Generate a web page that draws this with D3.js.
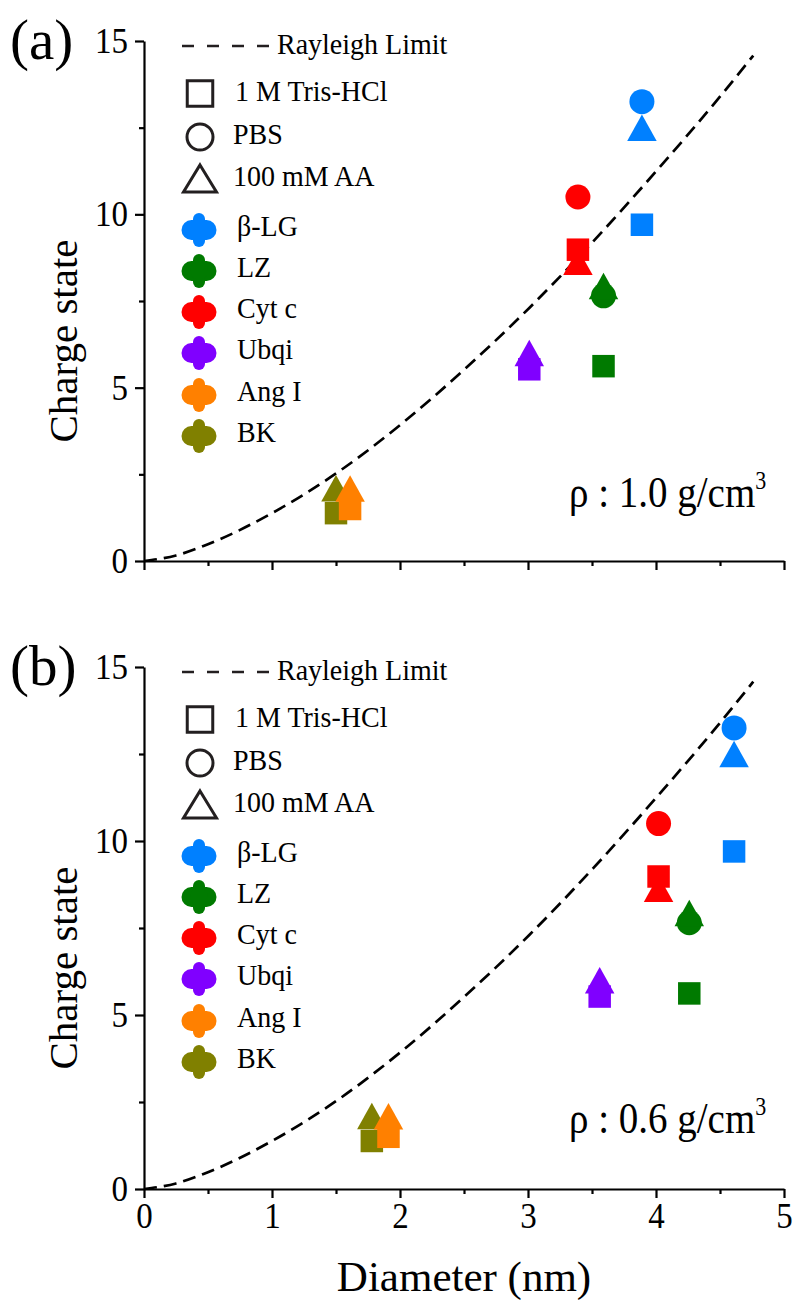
<!DOCTYPE html>
<html>
<head>
<meta charset="utf-8">
<script src="https://cdn.jsdelivr.net/npm/d3@7"></script>
<style>
  html, body { margin: 0; padding: 0; background: #fff; }
  svg text { font-family: "Liberation Serif", "Times New Roman", serif; fill: #000; }
</style>
</head>
<body>
<svg id="chart" width="798" height="1307"></svg>
<script>
// ---------------- data ----------------
const proteins = ["β-LG", "LZ", "Cyt c", "Ubqi", "Ang I", "BK"];
const proteinColors = ["#0080FF", "#007A00", "#FF0000", "#8000FF", "#FF8000", "#808000"];
// diameters (nm) at two assumed densities
const diameterRho10 = [3.89, 3.59, 3.39, 3.01, 1.61, 1.50];
const diameterRho06 = [4.61, 4.26, 4.02, 3.56, 1.91, 1.78];
// charge states per solution (null = not shown)
const chargeTris = [9.70, 5.62, 8.98, 5.53, 1.50, 1.38];
const chargePBS  = [13.25, 7.65, 10.50, null, null, null];
const chargeAA   = [12.50, 7.93, 8.63, 6.00, 2.09, 2.10];
// Rayleigh limit curve
const rayleighD = [0, 0.25, 0.47, 1.0, 1.51, 2.01, 2.51, 3.01, 3.51, 4.01, 4.51, 4.76];
const rayleighZ = [0, 0.16, 0.44, 1.38, 2.55, 3.95, 5.55, 7.30, 9.22, 11.28, 13.44, 14.58];
const solutionLabels = ["1 M Tris-HCl", "PBS", "100 mM AA"];
const xTicks = [0, 1, 2, 3, 4, 5];
const xMinorTicks = [0.5, 1.5, 2.5, 3.5, 4.5];
const yTicks = [0, 5, 10, 15];
const yMinorTicks = [2.5, 7.5, 12.5];
const panels = [
  { label: "(a)", rho: "1.0", diam: diameterRho10, yTop: 41, yBottom: 561, off: 0, xLabels: false },
  { label: "(b)", rho: "0.6", diam: diameterRho06, yTop: 667, yBottom: 1189, off: 626, xLabels: true }
];

// ---------------- drawing ----------------
const svg = d3.select("#chart");
const x = d3.scaleLinear().domain([0, 5]).range([144, 784]);

const SQ = 22.5, CR = 12.5, TW = 29.5, TH = 26.5;
function squarePath(cx, cy, s) { return `M${cx - s/2},${cy - s/2}h${s}v${s}h${-s}Z`; }
function triPath(cx, cy, w, h) { return `M${cx},${cy - h/2}L${cx + w/2},${cy + h/2}L${cx - w/2},${cy + h/2}Z`; }
// text placed with a slight vertical stretch like the reference typeface
function sText(parent, tx, ty, size, sy, str) {
  return parent.append("text")
    .attr("transform", `translate(${tx},${ty}) scale(1,${sy})`)
    .style("font-size", size + "px").text(str);
}

panels.forEach(p => {
  const y = d3.scaleLinear().domain([0, 15]).range([p.yBottom, p.yTop]);
  const g = svg.append("g");
  const TS = 1.1;

  // axes
  const xAxis = d3.axisBottom(x).tickValues(xTicks).tickSize(9).tickSizeOuter(0).tickFormat(d3.format("d"));
  const gx = g.append("g").attr("transform", `translate(0,${p.yBottom})`).call(xAxis);
  gx.selectAll("text").attr("y", 39 / TS).attr("dy", null).attr("transform", `scale(1,${TS})`).style("font-size", "33px");
  if (!p.xLabels) gx.selectAll("text").remove();
  const gxm = g.append("g").attr("transform", `translate(0,${p.yBottom})`)
    .call(d3.axisBottom(x).tickValues(xMinorTicks).tickSize(5).tickSizeOuter(0).tickFormat(""));
  gxm.select(".domain").remove();

  const gy = g.append("g").attr("transform", `translate(${x(0)},0)`)
    .call(d3.axisLeft(y).tickValues(yTicks).tickSize(9).tickSizeOuter(0).tickPadding(7));
  gy.selectAll("text").attr("transform", `scale(1,${TS})`).style("font-size", "33px");
  const gym = g.append("g").attr("transform", `translate(${x(0)},0)`)
    .call(d3.axisLeft(y).tickValues(yMinorTicks).tickSize(5).tickSizeOuter(0).tickFormat(""));
  gym.select(".domain").remove();

  g.selectAll(".domain, .tick line").attr("stroke", "#000").attr("stroke-width", 2.2);

  // y axis title
  g.append("text")
    .attr("transform", `translate(77,${(p.yTop + p.yBottom) / 2 + 40}) rotate(-90)`)
    .attr("text-anchor", "middle").style("font-size", "41px").text("Charge state");

  // panel label
  g.append("text").attr("x", 10).attr("y", 59 + p.off).style("font-size", "57px").text(p.label);

  // Rayleigh curve
  const line = d3.line().x(d => x(d[0])).y(d => y(d[1])).curve(d3.curveMonotoneX);
  g.append("path").datum(d3.zip(rayleighD, rayleighZ)).attr("d", line)
    .attr("fill", "none").attr("stroke", "#000").attr("stroke-width", 2.7)
    .attr("stroke-dasharray", "13,7");

  // data markers (drawn BK first so later proteins sit on top)
  const order = d3.range(proteins.length).reverse();
  order.forEach(i => {
    const c = proteinColors[i];
    const cx = x(p.diam[i]);
    if (chargeTris[i] != null) g.append("path").attr("d", squarePath(cx, y(chargeTris[i]), SQ)).attr("fill", c);
    if (chargePBS[i] != null) g.append("circle").attr("cx", cx).attr("cy", y(chargePBS[i])).attr("r", CR).attr("fill", c);
    if (chargeAA[i] != null) g.append("path").attr("d", triPath(cx, y(chargeAA[i]), TW, TH)).attr("fill", c);
  });

  // legend
  const o = p.off;
  const lg = g.append("g");
  const LS = 1.06;
  lg.append("line").attr("x1", 182).attr("x2", 269).attr("y1", 46 + o).attr("y2", 46 + o)
    .attr("stroke", "#231f20").attr("stroke-width", 2.7).attr("stroke-dasharray", "12,13");
  sText(lg, 277, 54 + o, 28, LS, "Rayleigh Limit");

  const ink = "#231f20";
  lg.append("path").attr("d", squarePath(200, 93.5 + o, 25.5)).attr("fill", "none").attr("stroke", ink).attr("stroke-width", 3);
  lg.append("circle").attr("cx", 200).attr("cy", 137 + o).attr("r", 13).attr("fill", "none").attr("stroke", ink).attr("stroke-width", 3);
  lg.append("path").attr("d", `M200,${165 + o}L216.5,${192 + o}L183.5,${192 + o}Z`).attr("fill", "none").attr("stroke", ink).attr("stroke-width", 3).attr("stroke-linejoin", "miter");
  const solY = [101, 144, 186];
  solutionLabels.forEach((t, k) => {
    sText(lg, k === 0 ? 235 : 233, solY[k] + o, 28, LS, t);
  });

  const protY = [230, 271, 312, 353, 395, 436];
  proteins.forEach((name, i) => {
    const cy = protY[i] + o, cx = 199;
    const cg = lg.append("g").attr("fill", proteinColors[i]);
    cg.append("rect").attr("x", cx - 6).attr("y", cy - 17).attr("width", 12).attr("height", 34).attr("rx", 6);
    cg.append("rect").attr("x", cx - 17.5).attr("y", cy - 10).attr("width", 35).attr("height", 20).attr("rx", 10);
    cg.append("circle").attr("cx", cx).attr("cy", cy).attr("r", 9);
    sText(lg, 237, cy + 6, 28, LS, name);
  });

  // density annotation
  const t = g.append("text").attr("transform", `translate(569,${507 + o}) scale(1,1.12)`).style("font-size", "39px");
  t.append("tspan").text(`ρ : ${p.rho} g/cm`);
  t.append("tspan").attr("dy", -16).style("font-size", "22px").text("3");
});

// x axis title
svg.append("text").attr("x", 464).attr("y", 1291).attr("text-anchor", "middle")
  .style("font-size", "43px").text("Diameter (nm)");
</script>
</body>
</html>
